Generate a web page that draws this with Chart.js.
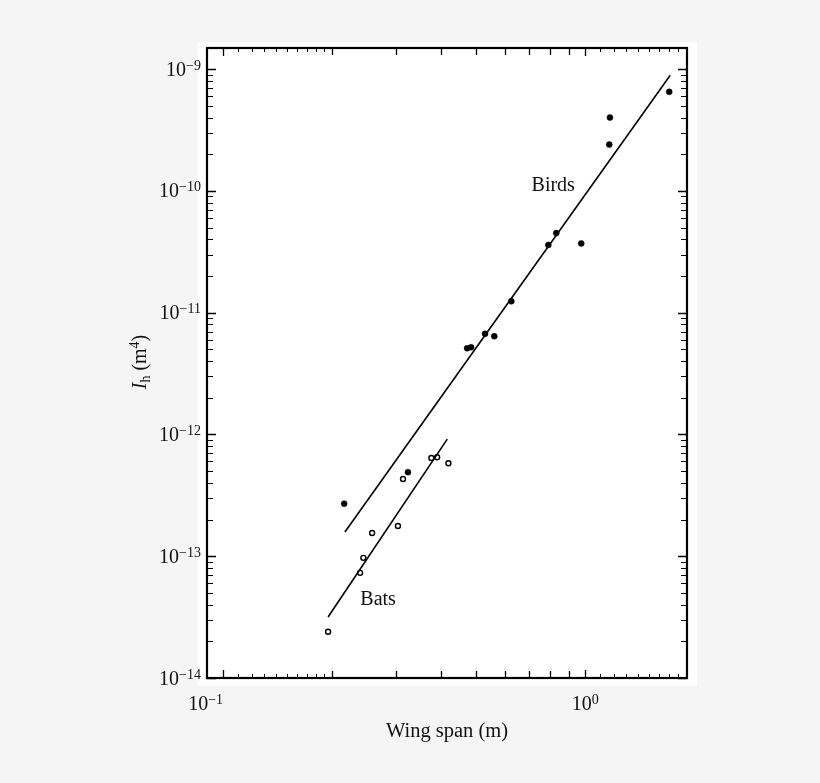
<!DOCTYPE html>
<html lang="en">
<head>
<meta charset="UTF-8">
<title>Moment of area vs wing span</title>
<script src="https://cdn.jsdelivr.net/npm/chart.js"></script>
<style>
  body { margin: 0; background: #f5f5f5; }
  canvas { display: block; }
</style>
</head>
<body>
<canvas id="chart" width="820" height="783"></canvas>
<script>
  // birds (filled dots)
  const birdSpan = [0.216, 0.324, 0.472, 0.484, 0.529, 0.561, 0.625, 0.791, 0.832, 0.975, 1.165, 1.17, 1.706];
  const birdIh   = [2.7e-13, 4.9e-13, 5.1e-12, 5.2e-12, 6.7e-12, 6.4e-12, 1.24e-11, 3.6e-11, 4.5e-11, 3.7e-11, 2.4e-10, 4.0e-10, 6.5e-10];
  // bats (open circles)
  const batSpan = [0.195, 0.239, 0.244, 0.258, 0.304, 0.314, 0.376, 0.390, 0.419];
  const batIh   = [2.4e-14, 7.3e-14, 9.7e-14, 1.55e-13, 1.77e-13, 4.3e-13, 6.4e-13, 6.5e-13, 5.8e-13];
  // fitted lines (end points)
  const birdFitSpan = [0.217, 1.717];
  const birdFitIh   = [1.58e-13, 8.9e-10];
  const batFitSpan  = [0.195, 0.416];
  const batFitIh    = [3.17e-14, 9.16e-13];

  // ticks
  const xDecades = [-1, 0];
  const xMinor = [0.11, 0.12, 0.13, 0.14, 0.15, 0.16, 0.17, 0.18, 0.19,
                  1.1, 1.2, 1.3, 1.4, 1.5, 1.6, 1.7, 1.8, 1.9];
  const xMid = [0.2, 0.3, 0.4, 0.5, 0.6, 0.7, 0.8, 0.9];
  const yDecades = [-14, -13, -12, -11, -10, -9];
  const yMultipliers = [2, 3, 4, 5, 6, 7, 8, 9];

  const labels = [
    { text: 'Birds', x: 0.816, y: 1.1e-10 },
    { text: 'Bats', x: 0.268, y: 4.4e-14 }
  ];

  const serif = '"Liberation Serif", "DejaVu Serif", serif';

  const pts = (xs, ys) => xs.map((x, i) => ({ x, y: ys[i] }));

  function drawPower(ctx, x, y, exp, align) {
    // "10" with superscript exponent, baseline y
    const base = '10', sup = String(exp).replace('-', '\u2212');
    ctx.font = '20px ' + serif;
    const wb = ctx.measureText(base).width;
    ctx.font = '14px ' + serif;
    const ws = ctx.measureText(sup).width;
    let x0 = x - (wb + ws) / 2;
    if (align === 'right') x0 = x - wb - ws;
    ctx.textAlign = 'left';
    ctx.textBaseline = 'alphabetic';
    ctx.font = '20px ' + serif;
    ctx.fillText(base, x0, y);
    ctx.font = '14px ' + serif;
    ctx.fillText(sup, x0 + wb, y - 6);
  }

  const framePlugin = {
    id: 'frame',
    beforeDraw(chart) {
      const { ctx, chartArea: a } = chart;
      ctx.save();
      ctx.fillStyle = '#fff';
      ctx.fillRect(a.left - 9, a.top - 6, a.right - a.left + 19, a.bottom - a.top + 14);
      ctx.restore();
    },
    afterDatasetsDraw(chart) {
      const { ctx, chartArea: a } = chart;
      const xs = chart.scales.x, ys = chart.scales.y;
      ctx.save();
      ctx.strokeStyle = '#000';
      ctx.fillStyle = '#111';

      const tickX = (v, len, w) => {
        const px = Math.round(xs.getPixelForValue(v)) + 0.5;
        ctx.lineWidth = w;
        ctx.beginPath();
        ctx.moveTo(px, a.bottom); ctx.lineTo(px, a.bottom - len);
        ctx.moveTo(px, a.top); ctx.lineTo(px, a.top + len);
        ctx.stroke();
      };
      const tickY = (v, len, w) => {
        const py = Math.round(ys.getPixelForValue(v)) + 0.5;
        ctx.lineWidth = w;
        ctx.beginPath();
        ctx.moveTo(a.left, py); ctx.lineTo(a.left + len, py);
        ctx.moveTo(a.right, py); ctx.lineTo(a.right - len, py);
        ctx.stroke();
      };

      xDecades.forEach(e => tickX(Math.pow(10, e), 8, 1.3));
      xMid.forEach(v => tickX(v, 7, 1.3));
      xMinor.forEach(v => tickX(v, 4, 1));
      yDecades.forEach(e => {
        tickY(Math.pow(10, e), 9, 1.5);
        yMultipliers.forEach(m => {
          const v = m * Math.pow(10, e);
          if (v < ys.max) tickY(v, 6, 1.2);
        });
      });

      // frame
      ctx.lineWidth = 2.2;
      ctx.strokeRect(a.left, a.top, a.right - a.left, a.bottom - a.top);

      // tick labels
      xDecades.forEach((e, i) => {
        const px = xs.getPixelForValue(Math.pow(10, e));
        drawPower(ctx, px, a.bottom + 32, e, i === 0 ? 'right' : 'center');
      });
      yDecades.forEach(e => {
        const py = ys.getPixelForValue(Math.pow(10, e));
        drawPower(ctx, a.left - 6, py + 6.5, e, 'right');
      });

      // x title
      ctx.font = '20.5px ' + serif;
      ctx.textAlign = 'center';
      ctx.textBaseline = 'alphabetic';
      ctx.fillText('Wing span (m)', (a.left + a.right) / 2, a.bottom + 59);

      // y title: I_h (m^4)
      const parts = [
        { t: 'I', f: 'italic 20px ' + serif, dy: 0 },
        { t: 'h', f: '14px ' + serif, dy: 4 },
        { t: ' (m', f: '20px ' + serif, dy: 0 },
        { t: '4', f: '14px ' + serif, dy: -7 },
        { t: ')', f: '20px ' + serif, dy: 0 }
      ];
      let total = 0;
      parts.forEach(p => { ctx.font = p.f; p.w = ctx.measureText(p.t).width; total += p.w; });
      ctx.translate(a.left - 67, (a.top + a.bottom) / 2 - 1);
      ctx.rotate(-Math.PI / 2);
      ctx.textAlign = 'left';
      let cx = -total / 2;
      parts.forEach(p => {
        ctx.font = p.f;
        ctx.fillText(p.t, cx, 6 + p.dy);
        cx += p.w;
      });
      ctx.setTransform(1, 0, 0, 1, 0, 0);

      // annotations
      ctx.font = '20px ' + serif;
      ctx.textAlign = 'center';
      ctx.textBaseline = 'middle';
      labels.forEach(l => {
        ctx.fillText(l.text, xs.getPixelForValue(l.x), ys.getPixelForValue(l.y));
      });
      ctx.restore();
    }
  };

  new Chart(document.getElementById('chart'), {
    type: 'scatter',
    data: {
      datasets: [
        { label: 'Birds fit', data: pts(birdFitSpan, birdFitIh), showLine: true,
          borderColor: '#000', borderWidth: 1.6, pointRadius: 0 },
        { label: 'Bats fit', data: pts(batFitSpan, batFitIh), showLine: true,
          borderColor: '#000', borderWidth: 1.6, pointRadius: 0 },
        { label: 'Birds', data: pts(birdSpan, birdIh), pointRadius: 3,
          pointBackgroundColor: '#000', pointBorderColor: '#000', pointBorderWidth: 0.5 },
        { label: 'Bats', data: pts(batSpan, batIh), pointRadius: 2.5,
          pointBackgroundColor: '#fff', pointBorderColor: '#000', pointBorderWidth: 1.4 }
      ]
    },
    options: {
      responsive: false,
      animation: false,
      layout: { padding: { left: 207, right: 133, top: 48, bottom: 105 } },
      plugins: { legend: { display: false }, tooltip: { enabled: false } },
      scales: {
        x: { type: 'logarithmic', min: 0.0903, max: 1.91, display: false },
        y: { type: 'logarithmic', min: 1e-14, max: 1.49e-9, display: false }
      }
    },
    plugins: [framePlugin]
  });
</script>
</body>
</html>
